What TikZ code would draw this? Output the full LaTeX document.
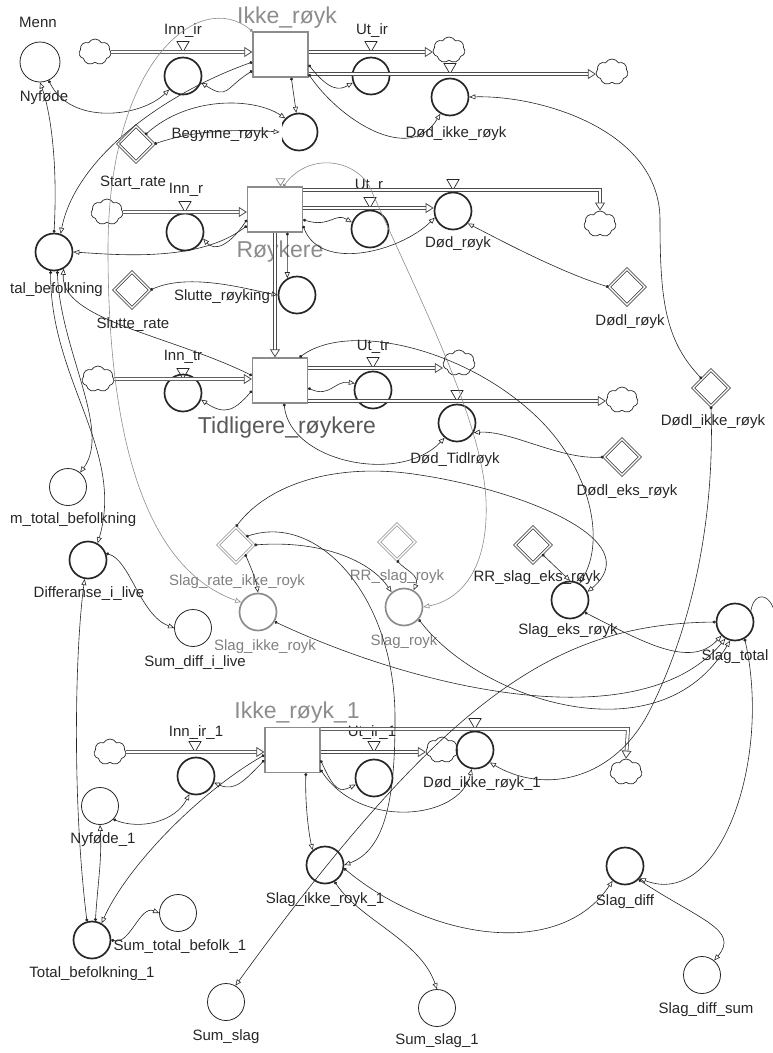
\documentclass[tikz,border=0pt]{standalone}
\usepackage{fontspec}
\setmainfont{Liberation Sans}
\usetikzlibrary{arrows.meta,shapes.geometric,shapes.symbols,positioning}

\tikzset{
  conv/.style={circle,draw=black!85,line width=0.8pt,minimum size=37pt,inner sep=0pt},
  rate/.style={conv,line width=1.7pt},
  stock/.style={rectangle,draw=black!45,line width=1.3pt,minimum width=55pt,minimum height=45pt,inner sep=0pt},
  konst/.style={diamond,draw=black!85,double,double distance=1.5pt,line width=0.7pt,minimum size=36pt,inner sep=0pt},
  cloudy/.style={cloud,cloud puffs=7,cloud puff arc=120,aspect=1.3,draw=black!85,line width=0.7pt,minimum width=32pt,minimum height=26pt,inner sep=0pt},
  valve/.style={regular polygon,regular polygon sides=3,shape border rotate=180,draw=black!85,line width=0.7pt,minimum size=14pt,inner sep=0pt},
  pipe/.style={line width=0.8pt,draw=black!70,double distance=2.2pt,-{Triangle[open,length=8pt,width=10pt,line width=0.8pt]}},
  link/.style={line width=0.6pt,draw=black!85,{Circle[length=3pt]}-{Triangle[open,length=6pt,width=5pt]}},
  lbl/.style={font=\fontsize{15}{17}\selectfont,text=black!85,inner sep=0pt},
  stocklbl/.style={font=\fontsize{23}{25}\selectfont,text=black!45,inner sep=0pt},
  faded/.style={draw=black!45},
  fadedtxt/.style={text=black!50}
}

\begin{document}
\begin{tikzpicture}[x=1pt,y=-1pt]
\useasboundingbox (0,0) rectangle (772,1053);

\node[lbl] (menn) at (38,22) {Menn};
\node[conv,minimum size=40pt] (Nyfodte) at (40,62) {};
\node[lbl] (lNyfodte) at (44,98) {Nyføde};

\node[cloudy] (cIr) at (95,52) {};
\node[stock] (IkkeRoyk) at (280.5,54.5) {};
\node[stocklbl] (lIkkeRoyk) at (287,18) {Ikke\_røyk};
\node[valve] (vInnIr) at (183,45) {};
\node[rate] (InnIr) at (183,76) {};
\node[lbl] (lInnIr) at (183,31) {Inn\_ir};
\node[valve] (vUtIr) at (371,45) {};
\node[rate] (UtIr) at (371,76) {};
\node[lbl] (lUtIr) at (372,31) {Ut\_ir};
\node[cloudy] (cUtIr) at (449,50) {};
\node[cloudy] (cDodIkke) at (612,72) {};
\node[valve] (vDodIkke) at (450,67) {};
\node[rate] (DodIkke) at (450,97) {};
\node[lbl] (lDodIkke) at (456,134) {Død\_ikke\_røyk};
\node[rate] (BegRoyk) at (299,132) {};
\node[lbl] (lBegRoyk) at (220,135) {Begynne\_røyk};
\node[konst] (StartRate) at (136,144) {};
\node[lbl] (lStartRate) at (133,183) {Start\_rate};

\node[cloudy] (cInnR) at (107,212) {};
\node[stock] (Roykere) at (275,209.5) {};
\node[stocklbl] (lRoykere) at (280,252) {Røykere};
\node[valve] (vInnR) at (185,205) {};
\node[rate] (InnR) at (185,232) {};
\node[lbl] (lInnR) at (186,190) {Inn\_r};
\node[valve] (vUtR) at (370,201) {};
\node[rate] (UtR) at (370,229) {};
\node[lbl] (lUtR) at (369,186) {Ut\_r};
\node[valve] (vDodRoyk) at (453,183) {};
\node[rate] (DodRoyk) at (453,211) {};
\node[lbl] (lDodRoyk) at (458,244) {Død\_røyk};
\node[cloudy] (cUtR) at (600,224) {};
\node[konst] (DodlRoyk) at (627,287) {};
\node[lbl] (lDodlRoyk) at (630,322) {Dødl\_røyk};
\node[rate] (TotBef) at (54,252) {};
\node[lbl,anchor=west] (lTotBef) at (10,290) {tal\_befolkning};
\node[konst] (SlutteRate) at (132,290) {};
\node[lbl] (lSlutteRate) at (133,325) {Slutte\_rate};
\node[rate] (SlutteRoyk) at (297,295) {};
\node[lbl] (lSlutteRoyk) at (222,297) {Slutte\_røyking};

\node[cloudy] (cInnTr) at (98,379) {};
\node[stock] (Tidl) at (280,380.5) {};
\node[stocklbl,text=black!65] (lTidl) at (287,428) {Tidligere\_røykere};
\node[valve] (vInnTr) at (183,372) {};
\node[rate] (InnTr) at (183,393) {};
\node[lbl] (lInnTr) at (183,357) {Inn\_tr};
\node[valve] (vUtTr) at (373,361) {};
\node[rate] (UtTr) at (373,390) {};
\node[lbl] (lUtTr) at (373,347) {Ut\_tr};
\node[cloudy] (cUtTr) at (459,363) {};
\node[valve] (vDodTidl) at (457,394) {};
\node[rate] (DodTidl) at (457,423) {};
\node[lbl] (lDodTidl) at (455,460) {Død\_Tidlrøyk};
\node[cloudy] (cDodTidl) at (622,400) {};
\node[konst] (DodlIkke) at (711,388) {};
\node[lbl] (lDodlIkke) at (713,422) {Dødl\_ikke\_røyk};
\node[konst] (DodlEks) at (622,457) {};
\node[lbl] (lDodlEks) at (627,492) {Dødl\_eks\_røyk};

\node[conv] (SumTot) at (68,487) {};
\node[lbl,anchor=west] (lSumTot) at (10,520) {m\_total\_befolkning};
\node[rate] (Diff) at (88,560) {};
\node[lbl] (lDiff) at (89,594) {Differanse\_i\_live};
\node[conv] (SumDiff) at (193,628) {};
\node[lbl] (lSumDiff) at (195,663) {Sum\_diff\_i\_live};
\node[konst,faded] (SlagRate) at (236,545) {};
\node[lbl,fadedtxt] (lSlagRate) at (237,582) {Slag\_rate\_ikke\_royk};
\node[rate,faded] (SlagIkke) at (258,612) {};
\node[lbl,fadedtxt] (lSlagIkke) at (265,647) {Slag\_ikke\_royk};
\node[konst,faded] (RRSlag) at (397,542) {};
\node[lbl,fadedtxt] (lRRSlag) at (397,577) {RR\_slag\_royk};
\node[rate,faded] (SlagRoyk) at (404,607) {};
\node[lbl,fadedtxt] (lSlagRoyk) at (404,642) {Slag\_royk};
\node[konst] (RREks) at (533,545) {};
\node[lbl] (lRREks) at (537,578) {RR\_slag\_eks\_røyk};
\node[rate] (SlagEks) at (570,600) {};
\node[lbl] (lSlagEks) at (568,631) {Slag\_eks\_røyk};
\node[rate] (SlagTotal) at (735,622) {};
\node[lbl] (lSlagTotal) at (735,657) {Slag\_total};

\node[stock] (IkkeRoyk1) at (292.5,750) {};
\node[stocklbl] (lIkkeRoyk1) at (297,713) {Ikke\_røyk\_1};
\node[cloudy] (cIr1) at (110,752) {};
\node[valve] (vInnIr1) at (195,745) {};
\node[rate] (InnIr1) at (196,776) {};
\node[lbl] (lInnIr1) at (196,733) {Inn\_ir\_1};
\node[valve] (vUtIr1) at (374,745) {};
\node[rate] (UtIr1) at (374,778) {};
\node[lbl] (lUtIr1) at (372,733) {Ut\_ir\_1};
\node[cloudy] (cUtIr1) at (442,750) {};
\node[valve] (vDodIkke1) at (475,722) {};
\node[rate] (DodIkke1) at (475,750) {};
\node[lbl] (lDodIkke1) at (482,784) {Død\_ikke\_røyk\_1};
\node[cloudy] (cDodIkke1) at (626,772) {};
\node[conv] (Nyfodte1) at (100,806) {};
\node[lbl] (lNyfodte1) at (103,840) {Nyføde\_1};
\node[rate] (TotBef1) at (92,940) {};
\node[lbl] (lTotBef1) at (92,974) {Total\_befolkning\_1};
\node[conv] (SumTotBef1) at (178,913) {};
\node[lbl] (lSumTotBef1) at (180,947) {Sum\_total\_befolk\_1};
\node[rate] (SlagIkke1) at (325,865) {};
\node[lbl] (lSlagIkke1) at (325,900) {Slag\_ikke\_royk\_1};
\node[conv] (SumSlag) at (226,1002) {};
\node[lbl] (lSumSlag) at (226,1037) {Sum\_slag};
\node[conv] (SumSlag1) at (437,1008) {};
\node[lbl] (lSumSlag1) at (437,1041) {Sum\_slag\_1};
\node[rate] (SlagDiff) at (625,866) {};
\node[lbl] (lSlagDiff) at (625,902) {Slag\_diff};
\node[conv] (SlagDiffSum) at (702,975) {};
\node[lbl] (lSlagDiffSum) at (706,1010) {Slag\_diff\_sum};
\coordinate (offSlag) at (775,640);

\draw[pipe] (cIr) -- (IkkeRoyk.west |- cIr);
\draw[pipe] (IkkeRoyk.east |- 0,52) -- (cUtIr.west |- 0,52);
\draw[pipe] (IkkeRoyk.east |- 0,74) -- (cDodIkke.west |- 0,74);
\draw[pipe,draw=black!45] (IkkeRoyk.south) -- (IkkeRoyk.south |- Roykere.north);
\draw[pipe] (cInnR) -- (Roykere.west |- cInnR);
\draw[pipe] (Roykere.east |- 0,190) -- (600,190) -- (cUtR.north);
\draw[pipe] (Roykere.east |- 0,208) -- (DodRoyk.west |- 0,208);
\draw[pipe] (Roykere.south) -- (Roykere.south |- Tidl.north);
\draw[pipe] (cInnTr) -- (Tidl.west |- cInnTr);
\draw[pipe] (Tidl.east |- 0,368) -- (cUtTr.west |- 0,368);
\draw[pipe] (Tidl.east |- 0,401) -- (cDodTidl.west |- 0,401);
\draw[pipe] (cIr1) -- (IkkeRoyk1.west |- cIr1);
\draw[pipe] (IkkeRoyk1.east |- 0,752) -- (cUtIr1.west |- 0,752);
\draw[pipe] (IkkeRoyk1.east |- 0,729) -- (628,729) -- (cDodIkke1.north);

\draw[link] (Nyfodte) .. controls (70,125) and (140,118) .. (InnIr);
\draw[link] (IkkeRoyk.210) .. controls (225,88) and (228,100) .. (InnIr.-20);
\draw[link] (IkkeRoyk.195) .. controls (160,95) and (75,160) .. (TotBef.70);
\draw[link,draw=black!45] (IkkeRoyk.north west) .. controls (200,-12) and (108,60) .. (108,250) .. controls (108,450) and (150,570) .. (SlagIkke.150);
\draw[link] (IkkeRoyk.-65) -- (BegRoyk);
\draw[link] (StartRate.east) .. controls (200,128) and (250,130) .. (BegRoyk.west);
\draw[link] (StartRate.north east) .. controls (190,95) and (255,98) .. (BegRoyk.north west);
\draw[link] (IkkeRoyk.-20) .. controls (330,92) and (340,90) .. (UtIr.200);
\draw[link] (IkkeRoyk.-35) .. controls (340,120) and (410,165) .. (DodIkke.-120);
\draw[link] (DodlIkke.north west) .. controls (665,340) and (660,300) .. (660,220) .. controls (660,130) and (540,95) .. (DodIkke.east);
\draw[link] (DodlIkke.south) .. controls (714,500) and (700,610) .. (650,710) .. controls (615,780) and (545,795) .. (DodIkke1.-40);

\draw[link] (Roykere.200) .. controls (230,245) and (215,252) .. (InnR.-20);
\draw[link] (Roykere.210) .. controls (200,262) and (120,255) .. (TotBef.east);
\draw[link,draw=black!45] (Roykere.70) .. controls (310,150) and (360,160) .. (372,192) .. controls (420,300) and (482,420) .. (486,500) .. controls (489,570) and (460,600) .. (SlagRoyk.east);
\draw[link] (Roykere.-62) -- (SlutteRoyk.120);
\draw[link] (SlutteRate.east) .. controls (190,272) and (250,290) .. (SlutteRoyk.west);
\draw[link] (Roykere.-20) .. controls (330,228) and (335,212) .. (UtR.160);
\draw[link] (Roykere.-30) .. controls (320,272) and (400,252) .. (DodRoyk.200);
\draw[link] (DodlRoyk.west) .. controls (560,272) and (500,240) .. (DodRoyk.-40);
\draw[link] (TotBef.north) .. controls (58,160) and (50,110) .. (Nyfodte.south);
\draw[link] (Tidl.170) .. controls (170,335) and (60,320) .. (TotBef.-60);
\draw[link] (TotBef.-80) .. controls (60,350) and (112,430) .. (SumTot.50);
\draw[link] (TotBef.-100) .. controls (50,380) and (125,450) .. (Diff.60);
\draw[link] (Diff.20) .. controls (130,560) and (140,615) .. (SumDiff.west);

\draw[link] (Tidl.200) .. controls (235,410) and (225,416) .. (InnTr.-20);
\draw[link] (Tidl.-15) .. controls (330,398) and (335,380) .. (UtTr.160);
\draw[link] (Tidl.-80) .. controls (290,462) and (400,485) .. (DodTidl.-130);
\draw[link] (DodlEks.west) .. controls (560,460) and (510,430) .. (DodTidl.-30);
\draw[link] (Tidl.50) .. controls (350,320) and (470,350) .. (540,420) .. controls (590,470) and (606,540) .. (SlagEks.60);
\draw[link] (SlagRate.north) .. controls (270,482) and (340,462) .. (420,475) .. controls (520,490) and (650,540) .. (SlagEks.25);
\draw[link] (SlagRate.south east) .. controls (252,570) and (256,580) .. (SlagIkke.north);
\draw[link] (SlagRate.east) .. controls (320,540) and (370,560) .. (SlagRoyk.130);
\draw[link] (SlagRate.40) .. controls (320,512) and (396,600) .. (395,720) .. controls (395,800) and (385,850) .. (SlagIkke1.east);
\draw[link] (RRSlag.south) .. controls (405,570) and (420,575) .. (SlagRoyk.60);
\draw[link] (RREks.south east) -- (SlagEks.north);
\draw[link] (SlagIkke.-30) .. controls (420,690) and (640,740) .. (SlagTotal.-120);
\draw[link] (SlagRoyk.-40) .. controls (480,700) and (660,760) .. (SlagTotal.-105);
\draw[link] (SlagEks.-40) .. controls (640,640) and (690,670) .. (SlagTotal.-135);
\draw[link] (SlagTotal.west) .. controls (560,624) and (450,690) .. (SumSlag.60);
\draw[link] (SlagTotal.-60) .. controls (772,760) and (720,910) .. (SlagDiff.-40);
\draw[line width=0.6pt,draw=black!85] (SlagTotal.35) .. controls (755,585) and (782,595) .. (offSlag);

\draw[link] (IkkeRoyk1.200) .. controls (245,780) and (235,792) .. (InnIr1.-20);
\draw[link] (IkkeRoyk1.190) .. controls (195,795) and (125,870) .. (TotBef1.60);
\draw[link] (Nyfodte1.-45) .. controls (140,830) and (175,822) .. (InnIr1.-110);
\draw[link] (TotBef1.80) .. controls (98,880) and (102,860) .. (Nyfodte1.south);
\draw[link] (TotBef1.105) .. controls (72,800) and (75,650) .. (Diff.-100);
\draw[link] (TotBef1.east) .. controls (130,945) and (140,905) .. (SumTotBef1.west);
\draw[link] (IkkeRoyk1.-60) .. controls (305,800) and (308,830) .. (SlagIkke1.130);
\draw[link] (IkkeRoyk1.-20) .. controls (335,792) and (340,792) .. (UtIr1.200);
\draw[link] (IkkeRoyk1.-35) .. controls (360,830) and (460,820) .. (DodIkke1.-100);
\draw[link] (SlagIkke1.-10) .. controls (430,940) and (560,960) .. (SlagDiff.-130);
\draw[link] (SlagIkke1.-60) .. controls (360,920) and (420,940) .. (SumSlag1.north);
\draw[link] (SlagDiff.-45) .. controls (700,920) and (740,930) .. (SlagDiffSum.50);
\end{tikzpicture}
\end{document}
